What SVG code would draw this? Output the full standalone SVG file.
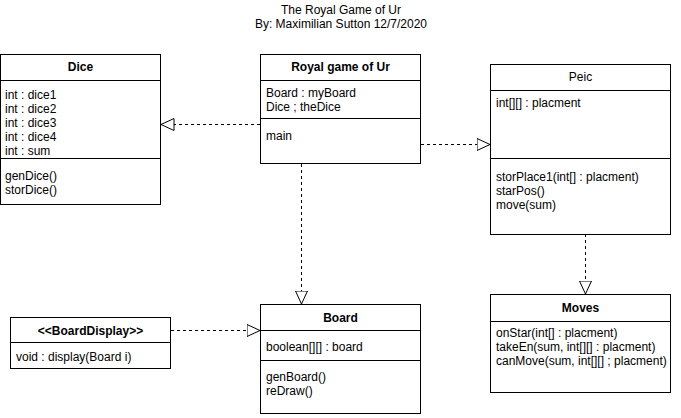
<svg xmlns="http://www.w3.org/2000/svg" width="681" height="418" viewBox="0 0 681 418">
<style>
  text { font-family: "Liberation Sans", Arial, sans-serif; font-size: 12px; fill: #000; }
  .t { text-anchor: middle; font-weight: bold; }
  .c { text-anchor: middle; }
  .box { fill: #fff; stroke: #000; stroke-width: 1; }
  .sep { stroke: #000; stroke-width: 1; }
  .dash { stroke: #000; stroke-width: 1; stroke-dasharray: 3 3; fill: none; marker-end: url(#tri); }
</style>
<defs>
  <marker id="tri" markerUnits="userSpaceOnUse" markerWidth="15" markerHeight="14" refX="13.5" refY="6.5" orient="auto" viewBox="0 0 15 14">
    <path d="M0.5,0.5 L13.5,6.5 L0.5,12.5 Z" fill="#fff" stroke="#000" stroke-width="1"/>
  </marker>
</defs>
<rect width="681" height="418" fill="#fff"/>
<g id="title">
  <text class="c" x="341" y="14">The Royal Game of Ur</text>
  <text class="c" x="341" y="28">By: Maximilian Sutton 12/7/2020</text>
</g>
<g id="connectors">
  <line class="dash" x1="260" y1="124.5" x2="161" y2="124.5"/>
  <line class="dash" x1="421" y1="144.5" x2="490" y2="144.5"/>
  <line class="dash" x1="301.5" y1="164" x2="301.5" y2="304"/>
  <line class="dash" x1="585.5" y1="234" x2="585.5" y2="294"/>
  <line class="dash" x1="171" y1="330.5" x2="260" y2="330.5"/>
</g>
<g id="dice">
  <rect class="box" x="0.5" y="54.5" width="160" height="150"/>
  <line class="sep" x1="0.5" y1="80.5" x2="160.5" y2="80.5"/>
  <line class="sep" x1="0.5" y1="158.5" x2="160.5" y2="158.5"/>
  <text class="t" x="80.5" y="71">Dice</text>
  <text x="5" y="99">int : dice1</text>
  <text x="5" y="113">int : dice2</text>
  <text x="5" y="127">int : dice3</text>
  <text x="5" y="141">int : dice4</text>
  <text x="5" y="155">int : sum</text>
  <text x="5" y="180">genDice()</text>
  <text x="5" y="194">storDice()</text>
</g>
<g id="royal">
  <rect class="box" x="260.5" y="54.5" width="160" height="109"/>
  <line class="sep" x1="260.5" y1="80.5" x2="420.5" y2="80.5"/>
  <line class="sep" x1="260.5" y1="118.5" x2="420.5" y2="118.5"/>
  <text class="t" x="340.5" y="71">Royal game of Ur</text>
  <text x="266" y="97">Board : myBoard</text>
  <text x="266" y="111">Dice ; theDice</text>
  <text x="266" y="140">main</text>
</g>
<g id="peic">
  <rect class="box" x="490.5" y="64.5" width="180" height="170"/>
  <line class="sep" x1="490.5" y1="90.5" x2="670.5" y2="90.5"/>
  <line class="sep" x1="490.5" y1="158.5" x2="670.5" y2="158.5"/>
  <text class="t" x="580.5" y="81" style="font-weight:normal">Peic</text>
  <text x="496" y="107">int[][] : placment</text>
  <text x="496" y="181">storPlace1(int[] : placment)</text>
  <text x="496" y="195">starPos()</text>
  <text x="496" y="209">move(sum)</text>
</g>
<g id="board">
  <rect class="box" x="260.5" y="304.5" width="160" height="109"/>
  <line class="sep" x1="260.5" y1="330.5" x2="420.5" y2="330.5"/>
  <line class="sep" x1="260.5" y1="360.5" x2="420.5" y2="360.5"/>
  <text class="t" x="340.5" y="322">Board</text>
  <text x="266" y="351">boolean[][] : board</text>
  <text x="266" y="381">genBoard()</text>
  <text x="266" y="395">reDraw()</text>
</g>
<g id="moves">
  <rect class="box" x="490.5" y="294.5" width="180" height="98"/>
  <line class="sep" x1="490.5" y1="321.5" x2="670.5" y2="321.5"/>
  <text class="t" x="580.5" y="312">Moves</text>
  <text x="496" y="337">onStar(int[] : placment)</text>
  <text x="496" y="351">takeEn(sum, int[][] : placment)</text>
  <text x="496" y="365">canMove(sum, int[][] ; placment)</text>
</g>
<g id="boarddisplay">
  <rect class="box" x="10.5" y="317.5" width="160" height="51"/>
  <line class="sep" x1="10.5" y1="342.5" x2="170.5" y2="342.5"/>
  <text class="t" x="90.5" y="335">&lt;&lt;BoardDisplay&gt;&gt;</text>
  <text x="16" y="361">void : display(Board i)</text>
</g>
</svg>
